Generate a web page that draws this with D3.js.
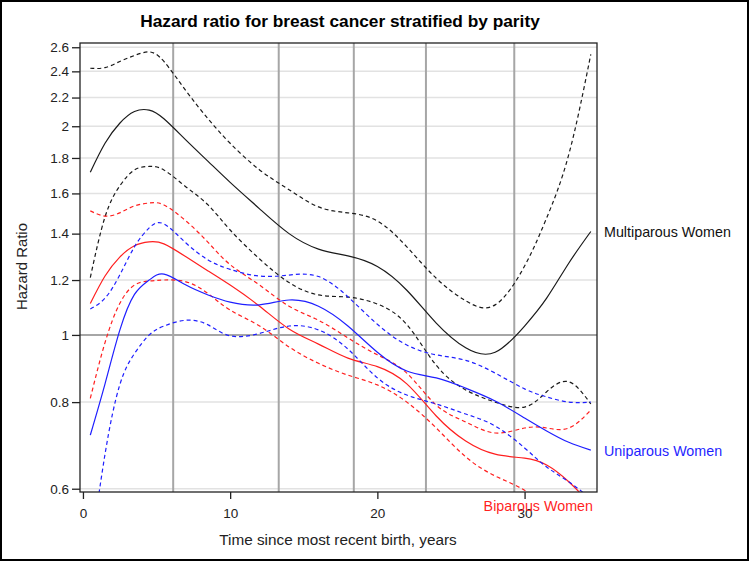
<!DOCTYPE html>
<html><head><meta charset="utf-8">
<script src="https://cdn.jsdelivr.net/npm/d3@7"></script>
<style>
body{margin:0;background:#fff;}
svg{display:block;font-family:"Liberation Sans",Arial,sans-serif;}
</style>
</head><body>
<svg id="chart" width="750" height="562"></svg>
<script>
// ---- data ----
const times = [0.5,1.5,2.5,3.5,4.5,5.5,7,8.5,10,12,14,16,18,20,22,24,26,28,30,31.5,33,34.5];

const multiHR    = [1.717,1.89,2.02,2.10,2.11,2.05,1.91,1.78,1.66,1.52,1.40,1.33,1.30,1.255,1.16,1.04,0.958,0.944,1.03,1.13,1.269,1.41];
const multiUpper = [2.425,2.43,2.48,2.53,2.56,2.48,2.25,2.05,1.89,1.73,1.62,1.53,1.50,1.46,1.34,1.207,1.12,1.105,1.257,1.475,1.82,2.54];
const multiLower = [1.21,1.48,1.64,1.73,1.75,1.73,1.635,1.54,1.417,1.287,1.19,1.142,1.134,1.108,1.035,0.904,0.833,0.80,0.787,0.828,0.856,0.795];

const biHR    = [1.11,1.216,1.295,1.345,1.362,1.353,1.296,1.237,1.18,1.10,1.02,0.97,0.926,0.90,0.85,0.764,0.703,0.673,0.664,0.649,0.614,0.57];
const biUpper = [1.51,1.484,1.50,1.535,1.55,1.54,1.46,1.36,1.263,1.18,1.10,1.05,0.99,0.936,0.881,0.792,0.749,0.722,0.734,0.734,0.734,0.779];
const biLower = [0.81,0.975,1.11,1.18,1.196,1.2,1.193,1.147,1.086,1.03,0.961,0.91,0.875,0.847,0.80,0.734,0.667,0.626,0.597,0.565,0.54,0.515];

const uniHR    = [0.717,0.85,1.015,1.144,1.20,1.224,1.18,1.142,1.115,1.105,1.123,1.10,1.03,0.944,0.887,0.867,0.838,0.803,0.759,0.727,0.70,0.682];
const uniUpper = [1.09,1.13,1.22,1.34,1.427,1.446,1.357,1.283,1.243,1.216,1.22,1.214,1.135,1.036,0.967,0.936,0.919,0.881,0.836,0.814,0.80,0.80];
const uniLower = [0.48,0.673,0.847,0.94,1.0,1.03,1.05,1.034,0.997,1.005,1.03,1.017,0.954,0.867,0.819,0.795,0.769,0.739,0.687,0.645,0.614,0.58];

const refTimes = [6.13,13.3,18.4,23.3,29.3];
const xTickValues = [0,10,20,30];
const yTickValues = [0.6,0.8,1,1.2,1.4,1.6,1.8,2,2.2,2.4,2.6];
const yTickLabels = ["0.6","0.8","1","1.2","1.4","1.6","1.8","2","2.2","2.4","2.6"];
const groupNames = ["Multiparous Women","Uniparous Women","Biparous Women"];
const titleText = "Hazard ratio for breast cancer stratified by parity";
const xLabel = "Time since most recent birth, years";
const yLabel = "Hazard Ratio";

// ---- drawing ----
const FONT = '"Liberation Sans", Arial, sans-serif';
const BLACK = "#1a1a1a", BLUE = "#1f1fff", RED = "#ff1f1f";
const L = 80, R = 597, T = 43, B = 492;

const svg = d3.select("#chart");
const x = d3.scaleLinear().domain([-0.2, 34.92]).range([L, R]);
const y = d3.scaleLog().domain([0.5935, 2.637]).range([B, T]);

svg.append("rect").attr("x",1).attr("y",1).attr("width",747).attr("height",559)
  .attr("fill","#fff").attr("stroke","#000").attr("stroke-width",2);

svg.append("defs").append("clipPath").attr("id","plotclip")
  .append("rect").attr("x",L).attr("y",T).attr("width",R-L).attr("height",B-T);

// horizontal grid
svg.append("g").selectAll("line").data(yTickValues.filter(v => v !== 1)).join("line")
  .attr("x1",L).attr("x2",R).attr("y1",d=>y(d)).attr("y2",d=>y(d))
  .attr("stroke","#e2e2e2").attr("stroke-width",1.5);

// vertical reference lines
svg.append("g").selectAll("line").data(refTimes).join("line")
  .attr("x1",d=>x(d)).attr("x2",d=>x(d)).attr("y1",T).attr("y2",B)
  .attr("stroke","#a6a6a6").attr("stroke-width",2);

// HR = 1 reference line
svg.append("line").attr("x1",L).attr("x2",R).attr("y1",y(1)).attr("y2",y(1))
  .attr("stroke","#a6a6a6").attr("stroke-width",2);

const series = [
  {v: multiUpper, c: BLACK, d: true},
  {v: multiLower, c: BLACK, d: true},
  {v: multiHR,    c: BLACK, d: false},
  {v: biUpper,    c: RED,   d: true},
  {v: biLower,    c: RED,   d: true},
  {v: biHR,       c: RED,   d: false},
  {v: uniUpper,   c: BLUE,  d: true},
  {v: uniLower,   c: BLUE,  d: true},
  {v: uniHR,      c: BLUE,  d: false}
];

const line = d3.line().x((d,i) => x(times[i])).y(d => y(d)).curve(d3.curveNatural);

svg.append("g").attr("clip-path","url(#plotclip)")
  .selectAll("path").data(series).join("path")
  .attr("d", s => line(s.v))
  .attr("fill","none")
  .attr("stroke", s => s.c)
  .attr("stroke-width", 1.2)
  .attr("stroke-dasharray", s => s.d ? "4,3" : null);

// frame
svg.append("rect").attr("x",L).attr("y",T).attr("width",R-L).attr("height",B-T)
  .attr("fill","none").attr("stroke","#222").attr("stroke-width",1.3);

// axes
const gy = svg.append("g").attr("transform",`translate(${L},0)`)
  .call(d3.axisLeft(y).tickValues(yTickValues).tickFormat((d,i)=>yTickLabels[i]).tickSize(8).tickPadding(3));
gy.select(".domain").remove();
gy.attr("font-family",FONT).attr("font-size",13.5);
gy.selectAll("line").attr("stroke","#222").attr("stroke-width",1.3);
gy.selectAll("text").attr("fill","#222");

const gx = svg.append("g").attr("transform",`translate(0,${B})`)
  .call(d3.axisBottom(x).tickValues(xTickValues).tickFormat(d3.format("d")).tickSize(7).tickPadding(9));
gx.select(".domain").remove();
gx.attr("font-family",FONT).attr("font-size",13.5);
gx.selectAll("line").attr("stroke","#222").attr("stroke-width",1.3);
gx.selectAll("text").attr("fill","#222");

// title and axis labels
svg.append("text").attr("x",340).attr("y",27).attr("text-anchor","middle")
  .attr("font-family",FONT).attr("font-weight","bold").attr("font-size",17.3).attr("fill","#000")
  .text(titleText);
svg.append("text").attr("x",338).attr("y",545).attr("text-anchor","middle")
  .attr("font-family",FONT).attr("font-size",15.3).attr("fill","#222").text(xLabel);
svg.append("text").attr("transform","translate(27,266.5) rotate(-90)").attr("text-anchor","middle")
  .attr("font-family",FONT).attr("font-size",14.9).attr("fill","#222").text(yLabel);

// curve labels
svg.append("text").attr("x",604).attr("y",y(multiHR[multiHR.length-1])+6)
  .attr("font-family",FONT).attr("font-size",14.3).attr("fill","#111").text(groupNames[0]);
svg.append("text").attr("x",604).attr("y",y(uniHR[uniHR.length-1])+6)
  .attr("font-family",FONT).attr("font-size",14.3).attr("fill",BLUE).text(groupNames[1]);
svg.append("text").attr("x",593).attr("y",511).attr("text-anchor","end")
  .attr("font-family",FONT).attr("font-size",14.3).attr("fill",RED).text(groupNames[2]);
</script>
</body></html>
